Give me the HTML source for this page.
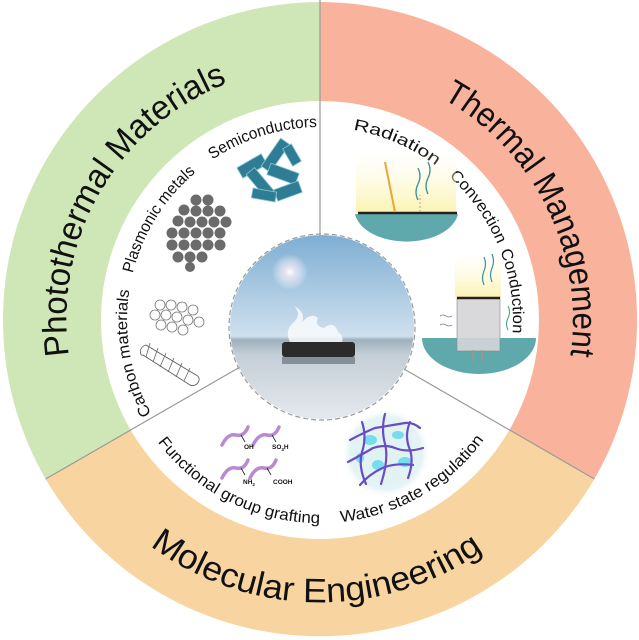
<!DOCTYPE html>
<html><head><meta charset="utf-8"><style>
html,body{margin:0;padding:0;background:#fff;}
svg{display:block;font-family:"Liberation Sans",sans-serif;}
</style></head><body>
<svg width="639" height="640" viewBox="0 0 639 640" xmlns="http://www.w3.org/2000/svg">
<defs>
<linearGradient id="sky" x1="0" y1="0" x2="0" y2="1">
<stop offset="0" stop-color="#7eaed3"/><stop offset="0.55" stop-color="#cfe0ee"/><stop offset="0.57" stop-color="#9fb0bd"/><stop offset="0.65" stop-color="#c4ced6"/><stop offset="1" stop-color="#e4e9ee"/>
</linearGradient>
<radialGradient id="sun"><stop offset="0" stop-color="#fff"/><stop offset="0.3" stop-color="#f3e8f3" stop-opacity="0.8"/><stop offset="1" stop-color="#fff" stop-opacity="0"/></radialGradient>
<radialGradient id="net"><stop offset="0" stop-color="#dff2f0"/><stop offset="0.8" stop-color="#e4f3f5"/><stop offset="1" stop-color="#fff" stop-opacity="0"/></radialGradient>
<linearGradient id="glow" x1="0" y1="1" x2="0" y2="0"><stop offset="0" stop-color="#fbf3b0"/><stop offset="1" stop-color="#fffbe0" stop-opacity="0"/></linearGradient>
<path id="pPM" d="M 100.9 446.5 A 253 253 0 0 1 393.9 77.1"/>
<path id="pTM" d="M 320 67 A 253 253 0 0 1 539 446.5"/>
<path id="pME" d="M 75 461 A 283 283 0 0 0 565 461"/>
<path id="pL" d="M 223.5 487.1 A 193 193 0 0 1 353.5 129.9"/>
<path id="pR" d="M 286.5 129.9 A 193 193 0 0 1 416.5 487.1"/>
<path id="pB" d="M 129.2 389.4 A 203 203 0 0 0 510.8 389.4"/>
</defs>
<path d="M320 320 L45.6 479 A318 318 0 0 1 320 2 Z" fill="#cfe7b6"/>
<path d="M320 320 L320 2 A318 318 0 0 1 594.4 479 Z" fill="#f9b29c"/>
<path d="M320 320 L594.4 479 A318 318 0 0 1 45.6 479 Z" fill="#f8d5a0"/>
<circle cx="320" cy="320" r="219" fill="#fff"/>
<line x1="320" y1="0" x2="320" y2="235" stroke="#9a9a9a" stroke-width="1.2"/>
<line x1="45.6" y1="479" x2="240" y2="367" stroke="#9a9a9a" stroke-width="1.2"/>
<line x1="594.4" y1="479" x2="404" y2="369" stroke="#9a9a9a" stroke-width="1.2"/>
<text font-size="34" fill="#111"><textPath href="#pPM" startOffset="97" textLength="340" lengthAdjust="spacingAndGlyphs">Photothermal Materials</textPath></text>
<text font-size="34" fill="#111"><textPath href="#pTM" startOffset="128" textLength="305" lengthAdjust="spacingAndGlyphs">Thermal Management</textPath></text>
<text font-size="34" fill="#111"><textPath href="#pME" startOffset="114" textLength="356" lengthAdjust="spacingAndGlyphs">Molecular Engineering</textPath></text>
<g font-size="16" fill="#111">
<text><textPath href="#pL" startOffset="104" textLength="128" lengthAdjust="spacingAndGlyphs">Carbon materials</textPath></text>
<text><textPath href="#pL" startOffset="249" textLength="121" lengthAdjust="spacingAndGlyphs">Plasmonic metals</textPath></text>
<text><textPath href="#pL" startOffset="391" textLength="111" lengthAdjust="spacingAndGlyphs">Semiconductors</textPath></text>
<text><textPath href="#pR" startOffset="67" textLength="91" lengthAdjust="spacingAndGlyphs">Radiation</textPath></text>
<text><textPath href="#pR" startOffset="175" textLength="84" lengthAdjust="spacingAndGlyphs">Convection</textPath></text>
<text><textPath href="#pR" startOffset="266" textLength="84" lengthAdjust="spacingAndGlyphs">Conduction</textPath></text>
<text><textPath href="#pB" startOffset="60" textLength="188" lengthAdjust="spacingAndGlyphs">Functional group grafting</textPath></text>
<text><textPath href="#pB" startOffset="269" textLength="170" lengthAdjust="spacingAndGlyphs">Water state regulation</textPath></text>
</g>
<g fill="#2f7d94" stroke="#8cc6d6" stroke-width="0.8">
<rect x="238" y="160" width="28" height="12" transform="rotate(-30 252 166)"/>
<rect x="258" y="150" width="34" height="11" transform="rotate(-55 275 155)"/>
<rect x="268" y="168" width="30" height="12" transform="rotate(20 283 174)"/>
<rect x="245" y="178" width="32" height="11" transform="rotate(50 261 183)"/>
<rect x="275" y="185" width="26" height="12" transform="rotate(-20 288 191)"/>
<rect x="252" y="190" width="24" height="10" transform="rotate(10 264 195)"/>
<rect x="282" y="150" width="20" height="10" transform="rotate(60 292 155)"/>
</g>
<g fill="#6b6b6b">
<circle cx="196" cy="200" r="5.5"/><circle cx="208" cy="200" r="5.5"/>
<circle cx="184" cy="210" r="5.5"/><circle cx="196" cy="211" r="5.5"/><circle cx="208" cy="211" r="5.5"/><circle cx="220" cy="211" r="5.5"/>
<circle cx="178" cy="221" r="5.5"/><circle cx="190" cy="222" r="5.5"/><circle cx="202" cy="222" r="5.5"/><circle cx="214" cy="222" r="5.5"/><circle cx="226" cy="222" r="5.5"/>
<circle cx="172" cy="233" r="5.5"/><circle cx="184" cy="233" r="5.5"/><circle cx="196" cy="233" r="5.5"/><circle cx="208" cy="233" r="5.5"/><circle cx="220" cy="233" r="5.5"/>
<circle cx="172" cy="245" r="5.5"/><circle cx="184" cy="245" r="5.5"/><circle cx="196" cy="245" r="5.5"/><circle cx="208" cy="245" r="5.5"/><circle cx="220" cy="245" r="5.5"/>
<circle cx="178" cy="257" r="5.5"/><circle cx="190" cy="257" r="5.5"/><circle cx="202" cy="257" r="5.5"/>
<circle cx="190" cy="267" r="5"/>
</g>
<g fill="none" stroke="#777" stroke-width="0.8">
<circle cx="160" cy="305" r="5"/><circle cx="171" cy="305" r="5"/><circle cx="182" cy="307" r="5"/><circle cx="193" cy="310" r="5"/>
<circle cx="155" cy="315" r="5"/><circle cx="166" cy="315" r="5"/><circle cx="177" cy="317" r="5"/><circle cx="188" cy="320" r="5"/><circle cx="199" cy="322" r="5"/>
<circle cx="161" cy="325" r="5"/><circle cx="172" cy="327" r="5"/><circle cx="183" cy="330" r="5"/>
<path d="M146 345 L196 375 M143 355 L190 385" stroke="#555"/>
<path d="M146 345 C138 347 140 357 143 355 M196 375 C203 378 197 388 190 385" stroke="#555"/>
<path d="M150 343 L146 357 M158 348 L153 362 M166 353 L160 367 M174 358 L168 372 M182 363 L176 377 M190 368 L184 381" stroke="#666"/>
</g>
<rect x="356" y="150" width="100" height="63" fill="url(#glow)"/>
<path d="M355 214 L458 214 A52 32 0 0 1 355 214 Z" fill="#5fa9ac"/>
<line x1="358" y1="213" x2="457" y2="213" stroke="#222" stroke-width="2.5"/>
<line x1="395" y1="212" x2="385" y2="162" stroke="#e8a83a" stroke-width="2"/>
<path d="M418 200 q-4 -8 0 -16 q4 -8 0 -16 M428 194 q-4 -8 0 -16 q4 -8 0 -16" stroke="#3b8fa0" fill="none" stroke-width="1.3"/>
<line x1="420" y1="212" x2="420" y2="195" stroke="#c97" stroke-dasharray="2 2"/>
<rect x="455" y="252" width="46" height="46" fill="url(#glow)"/>
<path d="M422 338 L536 338 A57 36 0 0 1 422 338 Z" fill="#5fa9ac"/>
<rect x="457" y="298" width="43" height="53" fill="#d5d5d8" fill-opacity="0.9" stroke="#888" stroke-width="0.6"/>
<line x1="457" y1="298" x2="500" y2="298" stroke="#222" stroke-width="2.5"/>
<path d="M484 285 q-3 -7 0 -14 q3 -7 0 -14 M492 282 q-3 -7 0 -14 q3 -7 0 -14" stroke="#3b8fa0" fill="none" stroke-width="1.2"/>
<path d="M508 330 q-3 -6 0 -12 q3 -6 0 -12" stroke="#3b9f70" fill="none"/>
<path d="M440 316 q3 -2 6 0 q3 2 6 0 M440 325 q3 -2 6 0 q3 2 6 0" stroke="#779" fill="none" stroke-width="0.8"/>
<line x1="473" y1="362" x2="473" y2="350" stroke="#c86"/>
<line x1="482" y1="362" x2="482" y2="350" stroke="#c86"/>
<circle cx="322" cy="327" r="92" fill="url(#sky)"/>
<circle cx="290" cy="272" r="18" fill="url(#sun)"/>
<path d="M290 342 q-6 -12 4 -20 q8 -8 0 -16 q12 6 8 16 q10 -10 16 -4 q-4 8 6 10 q10 -8 14 4 q6 4 4 10 Z" fill="#fff" fill-opacity="0.75"/>
<rect x="282" y="342" width="73" height="15" rx="3" fill="#2b2b2b"/>
<rect x="282" y="357" width="73" height="7" fill="#5a6470" fill-opacity="0.6"/>
<circle cx="322" cy="327" r="93" fill="none" stroke="#999" stroke-width="1.2" stroke-dasharray="5 3"/>
<g fill="none" stroke="#b98ad0" stroke-width="3.5" stroke-linecap="round">
<path d="M222 445 q6 -12 14 -10 q8 2 12 -8"/><path d="M253 445 q6 -12 14 -10 q8 2 12 -8"/>
<path d="M222 478 q6 -12 14 -10 q8 2 12 -8"/><path d="M250 478 q6 -12 14 -10 q8 2 12 -8"/>
</g>
<g stroke="#222" stroke-width="0.8"><path d="M241 435 l4 7 M272 435 l4 7 M241 468 l4 7 M267 468 l4 7"/></g>
<g font-size="6.5" font-weight="bold" fill="#111">
<text x="244" y="449">OH</text><text x="272" y="449">SO<tspan font-size="4.5" dy="2">3</tspan><tspan dy="-2">H</tspan></text>
<text x="243" y="484">NH<tspan font-size="4.5" dy="2">2</tspan></text><text x="273" y="484">COOH</text>
</g>
<circle cx="386" cy="453" r="45" fill="url(#net)"/>
<g fill="#5cd6ec" fill-opacity="0.8">
<ellipse cx="370" cy="440" rx="7" ry="5"/><ellipse cx="398" cy="435" rx="6" ry="4"/><ellipse cx="378" cy="465" rx="6" ry="5"/><ellipse cx="405" cy="462" rx="7" ry="5"/><ellipse cx="360" cy="458" rx="4" ry="5"/>
</g>
<g fill="none" stroke="#6a4cc4" stroke-width="2.2" stroke-linecap="round">
<path d="M350 440 q15 -8 25 -12 q12 -2 30 -5 q8 -1 15 5"/>
<path d="M348 462 q15 -8 25 -14 q12 -4 22 0 q12 5 28 0"/>
<path d="M360 485 q10 -12 25 -18 q12 -4 28 -2"/>
<path d="M362 422 q5 15 0 30 q-4 14 4 32"/>
<path d="M385 414 q-4 15 0 30 q4 15 -4 40"/>
<path d="M410 422 q-6 14 0 28 q4 12 -2 28"/>
</g>
</svg>
</body></html>
